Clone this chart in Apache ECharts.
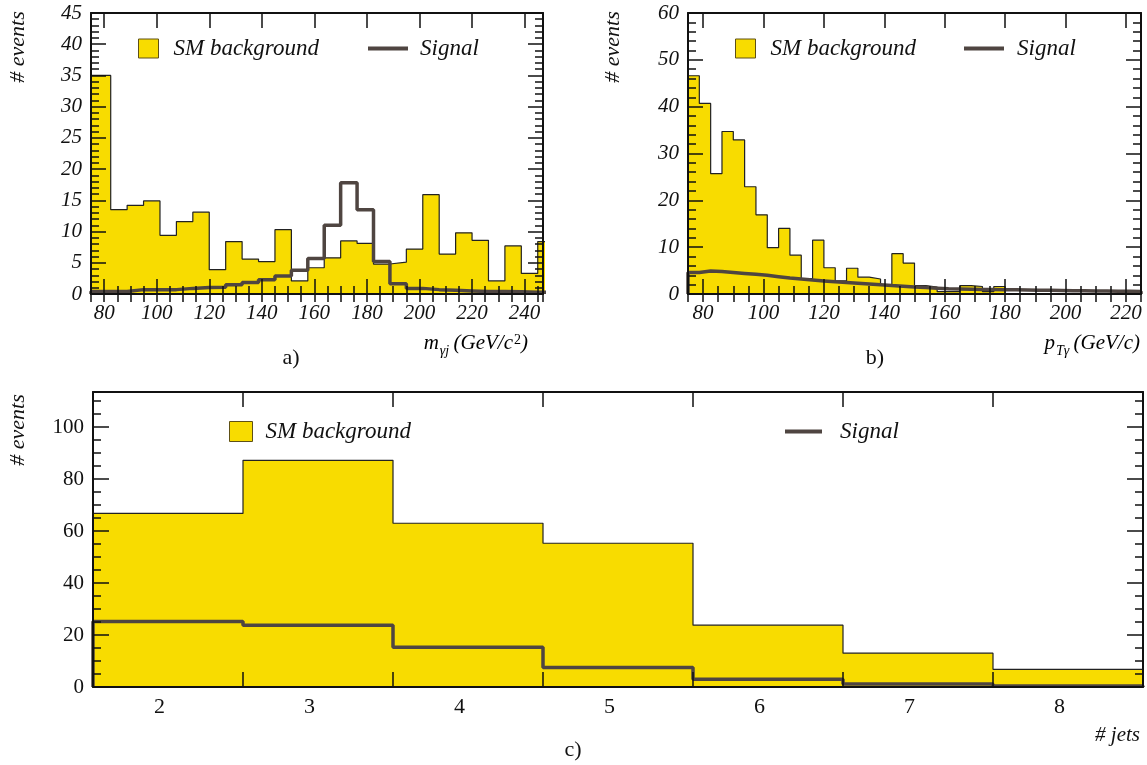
<!DOCTYPE html>
<html>
<head>
<meta charset="utf-8">
<script src="https://cdn.jsdelivr.net/npm/echarts@6/dist/echarts.min.js"></script>
<style>
  html, body { margin: 0; padding: 0; background: #fff; }
  #chart { width: 1147px; height: 765px; }
</style>
</head>
<body>
<div id="chart"></div>
<script>
// ---- a) invariant mass of photon + jet ----
const massEdges = [75, 82.5, 88.75, 95, 101.25, 107.5, 113.75, 120, 126.25, 132.5, 138.75,
  145, 151.25, 157.5, 163.75, 170, 176.25, 182.5, 188.75, 195, 201.25, 207.5, 213.75,
  220, 226.25, 232.5, 238.75, 245, 251.25];
const massBackground = [35, 13.5, 14.2, 14.9, 9.4, 11.6, 13.1, 3.9, 8.4, 5.6, 5.2, 10.3, 2.1, 4.2,
  5.8, 8.5, 8.1, 4.8, 5.1, 7.2, 15.9, 6.4, 9.8, 8.6, 2.1, 7.7, 3.3, 8.4];
const massSignal = [0.4, 0.4, 0.7, 0.7, 0.7, 0.9, 1.05, 1.1, 1.5, 1.85, 2.3, 2.9, 3.8, 5.7,
  11.0, 17.8, 13.5, 5.2, 1.65, 0.9, 0.7, 0.6, 0.5, 0.4, 0.4, 0.35, 0.3, 0.3];

// ---- b) photon transverse momentum: 40 bins of 3.75 GeV/c from 75 ----
const ptBinLow = 75;
const ptBinWidth = 3.75;
const ptBackground = [46.6, 40.7, 25.7, 34.7, 32.9, 22.9, 16.9, 9.9, 14.0, 8.3, 3.3, 11.5, 5.6, 2.8,
  5.5, 3.6, 3.2, 1.9, 8.6, 6.6, 1.8, 1.5, 0.5, 0.5, 1.8, 1.6, 0.5, 1.6, 0, 0, 0, 0, 0, 0, 0, 0, 0, 0, 0, 0];
const ptSignal = [4.6, 4.9, 4.8, 4.6, 4.4, 4.2, 4.0, 3.7, 3.4, 3.2, 3.0, 2.8, 2.6, 2.45, 2.3, 2.15,
  2.0, 1.8, 1.65, 1.5, 1.4, 1.25, 1.1, 1.05, 1.0, 0.95, 0.95, 0.9, 0.9, 0.85, 0.8, 0.8, 0.75, 0.7,
  0.7, 0.65, 0.65, 0.6, 0.6, 0.55];

// ---- c) jet multiplicity ----
const jetLabels = ['2', '3', '4', '5', '6', '7', '8'];
const jetEdges = [1.5, 2.5, 3.5, 4.5, 5.5, 6.5, 7.5, 8.5];
const jetBackground = [66.8, 87.2, 63.0, 55.3, 23.8, 13.0, 6.8];
const jetSignal = [25.2, 23.8, 15.3, 7.5, 3.0, 1.2, 0.4];

const YELLOW = '#f8dc00';
const SIGNAL = '#4f4541';
const INK = '#111111';
const SERIF = '"Liberation Serif", "DejaVu Serif", serif';

function uniformEdges(low, width, count) {
  const e = [];
  for (let i = 0; i <= count; i++) e.push(low + i * width);
  return e;
}
const ptEdges = uniformEdges(ptBinLow, ptBinWidth, ptBackground.length);

// outline of a histogram as points for a step line: closed down to zero at both ends
function histPoints(edges, values) {
  const n = values.length;
  const pts = [[edges[0], 0]];
  for (let i = 0; i < n; i++) pts.push([edges[i], values[i]]);
  pts.push([edges[n], values[n - 1]]);
  pts.push([edges[n], 0]);
  return pts;
}

const xAxes = [];
const yAxes = [];
const lineAx = { show: true, onZero: false, lineStyle: { color: INK, width: 2 } };
const tickStyle = { color: INK, width: 1.5 };

function xValueMajor(g, min, max, pos, labels) {
  xAxes.push({
    type: 'value', gridIndex: g, min: min, max: max, splitNumber: 8, position: pos, z: 10,
    axisLine: lineAx,
    axisTick: { show: true, inside: true, length: 15, lineStyle: tickStyle },
    axisLabel: labels ? {
      show: true, showMinLabel: false, showMaxLabel: false, margin: 9,
      fontFamily: SERIF, fontStyle: 'italic', fontSize: 21, color: INK
    } : { show: false },
    splitLine: { show: false }
  });
  return xAxes.length - 1;
}
function xValueMinor(g, min, max, pos, step) {
  xAxes.push({
    type: 'value', gridIndex: g, min: min, max: max, interval: step, position: pos, z: 10,
    axisLine: { show: false },
    axisTick: { show: true, inside: true, length: 8, lineStyle: tickStyle },
    axisLabel: { show: false }, splitLine: { show: false }
  });
  return xAxes.length - 1;
}
function yValue(g, max, step, minorSplit, pos, labels, italic, tickLen) {
  yAxes.push({
    type: 'value', gridIndex: g, min: 0, max: max, interval: step, position: pos, z: 10,
    axisLine: lineAx,
    axisTick: { show: true, inside: true, length: tickLen, lineStyle: tickStyle },
    minorTick: minorSplit ? { show: true, splitNumber: minorSplit, length: 8, lineStyle: tickStyle } : { show: false },
    axisLabel: labels ? {
      show: true, showMaxLabel: max % step === 0, margin: 9,
      fontFamily: SERIF, fontStyle: italic ? 'italic' : 'normal', fontSize: 21, color: INK
    } : { show: false },
    splitLine: { show: false }
  });
  return yAxes.length - 1;
}

// panel a
const ax = {};
ax.aX = xValueMajor(0, 75, 247, 'bottom', true);
xValueMinor(0, 75, 247, 'bottom', 5);
xValueMajor(0, 75, 247, 'top', false);
xValueMinor(0, 75, 247, 'top', 5);
ax.aY = yValue(0, 45, 5, 5, 'left', true, true, 15);
yValue(0, 45, 5, 5, 'right', false, true, 15);

// panel b
ax.bX = xValueMajor(1, 75, 225, 'bottom', true);
xValueMinor(1, 75, 225, 'bottom', 5);
xValueMajor(1, 75, 225, 'top', false);
xValueMinor(1, 75, 225, 'top', 5);
ax.bY = yValue(1, 60, 10, 5, 'left', true, true, 15);
yValue(1, 60, 10, 5, 'right', false, true, 15);

// panel c: hidden value axis carries the data, category axes carry labels and bin ticks
xAxes.push({ type: 'value', gridIndex: 2, min: 1.5, max: 8.5, show: false });
ax.cX = xAxes.length - 1;
['bottom', 'top'].forEach(function (pos) {
  xAxes.push({
    type: 'category', gridIndex: 2, data: jetLabels, boundaryGap: true, position: pos, z: 10,
    axisLine: lineAx,
    axisTick: { show: true, inside: true, length: 15, alignWithLabel: false, interval: 0, lineStyle: tickStyle },
    axisLabel: pos === 'bottom' ? {
      show: true, interval: 0, margin: 9, padding: [0, 17, 0, 0],
      fontFamily: SERIF, fontSize: 22, color: INK
    } : { show: false },
    splitLine: { show: false }
  });
});
ax.cY = yValue(2, 113.5, 20, 0, 'left', true, false, 16);
yValue(2, 113.5, 5, 0, 'left', false, false, 8);
yValue(2, 113.5, 20, 0, 'right', false, false, 16);
yValue(2, 113.5, 5, 0, 'right', false, false, 8);
yAxes[yAxes.length - 3].axisLine = { show: false };
yAxes[yAxes.length - 1].axisLine = { show: false };

function bgSeries(xi, yi, edges, values) {
  return {
    name: 'SM background', type: 'line', xAxisIndex: xi, yAxisIndex: yi, step: 'end',
    data: histPoints(edges, values), symbol: 'none', z: 2, clip: true,
    lineStyle: { color: '#222', width: 1.2 },
    areaStyle: { color: YELLOW, opacity: 1 }
  };
}
function sigSeries(xi, yi, edges, values) {
  return {
    name: 'Signal', type: 'line', xAxisIndex: xi, yAxisIndex: yi, step: 'end',
    data: histPoints(edges, values), symbol: 'none', z: 3, clip: true,
    lineStyle: { color: SIGNAL, width: 3.5 }
  };
}

const legendFont = { fontFamily: SERIF, fontStyle: 'italic', fontSize: 23, color: INK };
function legendItem(name, left, top, w, h, pad) {
  const isBg = name === 'SM background';
  return {
    show: true, left: left, top: top, padding: 0, selectedMode: false,
    itemWidth: w, itemHeight: h,
    data: [{
      name: name, icon: 'rect',
      itemStyle: isBg ? { color: YELLOW, borderColor: '#5e5016', borderWidth: 1 }
                      : { color: SIGNAL, borderWidth: 0 }
    }],
    formatter: function (n) { return '{t|' + n + '}'; },
    textStyle: Object.assign({}, legendFont, { rich: { t: Object.assign({ padding: [0, 0, 0, pad] }, legendFont) } })
  };
}

const titleRich = {
  m: { fontFamily: SERIF, fontStyle: 'italic', fontSize: 21, color: INK, lineHeight: 22, verticalAlign: 'top' },
  s: { fontFamily: SERIF, fontStyle: 'italic', fontSize: 14, color: INK, lineHeight: 14, padding: [11, 1, 0, 1], verticalAlign: 'top' },
  p: { fontFamily: SERIF, fontStyle: 'normal', fontSize: 14, color: INK, lineHeight: 8, padding: [0, 0, 0, 1], verticalAlign: 'top' }
};

function yTitle(x, y) {
  return {
    type: 'text', x: x, y: y, rotation: Math.PI / 2, z: 20,
    style: { text: '# events', font: 'italic 22px ' + SERIF, fill: INK, align: 'center', verticalAlign: 'middle' }
  };
}
function panelTag(text, x, y) {
  return {
    type: 'text', x: x, y: y, z: 20,
    style: { text: text, font: '22px ' + SERIF, fill: INK, align: 'center', verticalAlign: 'middle' }
  };
}

const option = {
  animation: false,
  backgroundColor: '#ffffff',
  grid: [
    { left: 91, top: 13, width: 452, height: 281, containLabel: false },
    { left: 688, top: 13, width: 453, height: 281, containLabel: false },
    { left: 93, top: 392, width: 1050, height: 295, containLabel: false }
  ],
  xAxis: xAxes,
  yAxis: yAxes,
  legend: [
    legendItem('SM background', 138, 37, 20, 19, 10),
    legendItem('Signal', 368, 37, 40, 4, 7),
    legendItem('SM background', 735, 37, 20, 19, 10),
    legendItem('Signal', 964, 37, 40, 4, 8),
    legendItem('SM background', 229, 420, 23, 20, 8),
    legendItem('Signal', 785, 420, 37, 4, 13)
  ],
  series: [
    bgSeries(ax.aX, ax.aY, massEdges, massBackground),
    sigSeries(ax.aX, ax.aY, massEdges, massSignal),
    bgSeries(ax.bX, ax.bY, ptEdges, ptBackground),
    sigSeries(ax.bX, ax.bY, ptEdges, ptSignal),
    bgSeries(ax.cX, ax.cY, jetEdges, jetBackground),
    sigSeries(ax.cX, ax.cY, jetEdges, jetSignal)
  ],
  graphic: [
    yTitle(18, 47),
    yTitle(613, 47),
    yTitle(18, 430),
    {
      type: 'text', x: 528, y: 333, z: 20,
      style: { text: '{m|m}{s|γj} {m|(GeV/c}{p|2}{m|)}', rich: titleRich, align: 'right', verticalAlign: 'top' }
    },
    {
      type: 'text', x: 1140, y: 333, z: 20,
      style: { text: '{m|p}{s|Tγ} {m|(GeV/c)}', rich: titleRich, align: 'right', verticalAlign: 'top' }
    },
    {
      type: 'text', x: 1140, y: 735, z: 20,
      style: { text: '# jets', font: 'italic 21px ' + SERIF, fill: INK, align: 'right', verticalAlign: 'middle' }
    },
    panelTag('a)', 291, 358),
    panelTag('b)', 875, 358),
    panelTag('c)', 573, 750)
  ]
};

const chart = echarts.init(document.getElementById('chart'), null, { renderer: 'canvas' });
chart.setOption(option);
</script>
</body>
</html>
